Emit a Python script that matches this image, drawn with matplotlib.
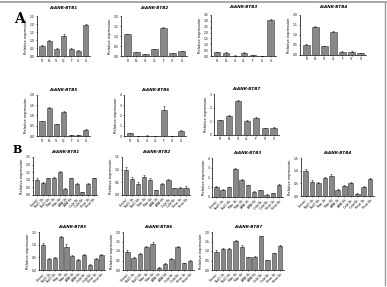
import matplotlib.pyplot as plt
from matplotlib.lines import Line2D

W, H = 387, 287

# tissue panel (A)
tissues = ['R', 'RL', 'St', 'CL', 'F', 'Si', 'S']
btb1_t = [0.65, 0.95, 0.43, 1.26, 0.42, 0.33, 1.92]
btb2_t = [1.08, 0.18, 0.08, 0.33, 1.38, 0.13, 0.23]
btb3_t = [0.30, 0.28, 0.04, 0.28, 0.05, 0.02, 3.10]
btb4_t = [0.52, 1.42, 0.45, 1.15, 0.17, 0.17, 0.08]
btb5_t = [0.72, 1.39, 0.57, 1.18, 0.06, 0.06, 0.31]
btb6_t = [0.26, 0.01, 0.04, 0.01, 2.52, 0.01, 0.52]
btb7_t = [1.08, 1.42, 2.50, 1.03, 1.28, 0.49, 0.54]
err1_t = [0.06, 0.08, 0.10, 0.12, 0.10, 0.06, 0.10]
err2_t = [0.04, 0.02, 0.01, 0.03, 0.08, 0.02, 0.02]
err3_t = [0.02, 0.02, 0.01, 0.02, 0.01, 0.01, 0.05]
err4_t = [0.02, 0.04, 0.02, 0.04, 0.02, 0.02, 0.02]
err5_t = [0.03, 0.04, 0.03, 0.03, 0.01, 0.01, 0.02]
err6_t = [0.05, 0.01, 0.01, 0.01, 0.40, 0.01, 0.08]
err7_t = [0.03, 0.04, 0.05, 0.04, 0.05, 0.02, 0.02]

# stress treatment panel (B)
treatments = ['Control', 'NaCl 3h', 'NaCl 6h', 'Man 3h', 'Man 6h', 'ABA 3h',
              'ABA 6h', 'Cold 3h', 'Cold 6h', 'Heat 3h', 'Heat 6h']
btb1_s = [1.00, 0.80, 1.10, 1.15, 1.50, 0.40, 1.10, 0.75, 0.20, 0.75, 1.10]
btb2_s = [1.00, 0.65, 0.45, 0.72, 0.58, 0.18, 0.45, 0.60, 0.26, 0.29, 0.29]
btb3_s = [1.00, 0.75, 1.00, 2.90, 1.75, 1.25, 0.55, 0.70, 0.25, 0.40, 1.25]
btb4_s = [0.97, 0.57, 0.50, 0.70, 0.77, 0.24, 0.40, 0.53, 0.08, 0.35, 0.68]
btb5_s = [0.98, 0.43, 0.46, 1.30, 0.91, 0.56, 0.39, 0.59, 0.20, 0.43, 0.59]
btb6_s = [0.96, 0.64, 0.82, 1.22, 1.39, 0.12, 0.33, 0.57, 1.22, 0.35, 0.47]
btb7_s = [0.97, 1.10, 1.13, 1.54, 1.20, 0.67, 0.71, 1.77, 0.53, 0.88, 1.27]
err_s = [0.10, 0.05, 0.05, 0.05, 0.10, 0.03, 0.04, 0.04, 0.02, 0.04, 0.05]

# (name, cats, values, errors, ymax, ystep, pixel box left,right,top,bottom, title pad)
panels = [
    ('AtANK-BTB1', tissues, btb1_t, err1_t, 2.5, 0.5, (37, 90, 16, 56), 5),
    ('AtANK-BTB2', tissues, btb2_t, err2_t, 2.0, 0.5, (121, 187, 16, 56), 5),
    ('AtANK-BTB3', tissues, btb3_t, err3_t, 3.5, 0.5, (211, 276, 15, 56), 5),
    ('AtANK-BTB4', tissues, btb4_t, err4_t, 2.0, 0.5, (300, 366, 15, 55), 5),
    ('AtANK-BTB5', tissues, btb5_t, err5_t, 2.0, 0.5, (37, 90, 95, 136), 3),
    ('AtANK-BTB6', tissues, btb6_t, err6_t, 4, 1, (124, 186, 95, 136), 3),
    ('AtANK-BTB7', tissues, btb7_t, err7_t, 3, 1, (214, 279, 94, 135), 3),
    ('AtANK-BTB1', treatments, btb1_s, err_s, 2.5, 0.5, (33, 97, 157, 195), 3),
    ('AtANK-BTB2', treatments, btb2_s, err_s, 1.5, 0.5, (122, 190, 157, 195), 3),
    ('AtANK-BTB3', treatments, btb3_s, err_s, 4, 1, (212, 283, 158, 197), 3),
    ('AtANK-BTB4', treatments, btb4_s, err_s, 1.5, 0.5, (301, 374, 158, 196), 3),
    ('AtANK-BTB5', treatments, btb5_s, err_s, 1.5, 0.5, (39, 105, 232, 270), 3),
    ('AtANK-BTB6', treatments, btb6_s, err_s, 2.0, 0.5, (123, 194, 232, 270), 3),
    ('AtANK-BTB7', treatments, btb7_s, err_s, 2.0, 0.5, (212, 284, 232, 270), 3),
]

fig = plt.figure(figsize=(W / 100, H / 100), dpi=100)

for name, cats, vals, errs, ymax, ystep, box, tpad in panels:
    x0, x1, y0, y1 = box
    ax = fig.add_axes([x0 / W, 1 - y1 / H, (x1 - x0) / W, (y1 - y0) / H])
    pos = range(len(cats))
    ax.bar(pos, vals, width=0.72, color='#888888', edgecolor='#3a3a3a', linewidth=0.4)
    ax.errorbar(pos, vals, yerr=[[0] * len(errs), errs], fmt='none',
                ecolor='#222222', elinewidth=0.4, capsize=0.8, capthick=0.4)
    ax.set_xlim(-0.7, len(cats) - 0.4)
    ax.set_ylim(0, ymax)
    ticks = [i * ystep for i in range(int(round(ymax / ystep)) + 1)]
    ax.set_yticks(ticks)
    ax.set_yticklabels([f'{t:.1f}' if ystep < 1 else f'{t:g}' for t in ticks])
    ax.set_xticks(list(pos))
    if len(cats) > 7:
        ax.set_xticklabels(cats, rotation=45, ha='right', rotation_mode='anchor')
    else:
        ax.set_xticklabels(cats)
    ax.tick_params(labelsize=2.2, length=1, width=0.4, pad=0.8)
    for s in ('top', 'right'):
        ax.spines[s].set_visible(False)
    for s in ('left', 'bottom'):
        ax.spines[s].set_linewidth(0.5)
    ax.set_ylabel('Relative expression', fontsize=2.6, labelpad=1)
    ax.set_title(name, fontsize=3, fontweight='bold', style='italic', pad=tpad)

fig.text(14 / W, 1 - 23 / H, 'A', fontsize=10, fontweight='bold', family='DejaVu Serif')
fig.text(13 / W, 1 - 153 / H, 'B', fontsize=8, fontweight='bold', family='DejaVu Serif')

# frame lines at the top and right of the figure
fig.add_artist(Line2D([0, 1], [1 - 2 / H, 1 - 2 / H], color='#999999', lw=1.2))
fig.add_artist(Line2D([385 / W, 385 / W], [1 - 2 / H, 2 / H], color='#999999', lw=1.0))

fig.savefig('out.png', dpi=100)
